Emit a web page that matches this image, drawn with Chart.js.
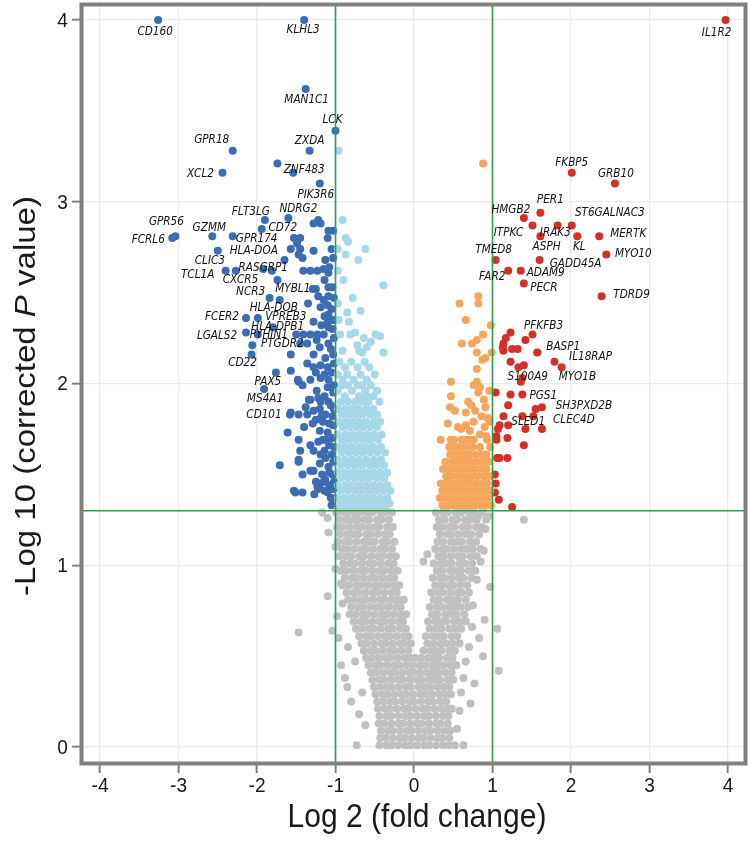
<!DOCTYPE html>
<html>
<head>
<meta charset="utf-8">
<script src="https://cdn.jsdelivr.net/npm/chart.js@4.4.1/dist/chart.umd.min.js"></script>
<style>
  html, body { margin: 0; padding: 0; background: #fff; }
  #wrap { width: 750px; height: 841px; }
</style>
</head>
<body>
<div id="wrap"><canvas id="volcano" width="750" height="841"></canvas></div>
<script>
// --- data: log2 fold change (x), -log10 corrected P (y) ---
const xTicks = [-4, -3, -2, -1, 0, 1, 2, 3, 4];
const yTicks = [0, 1, 2, 3, 4];
const foldCut = [-1, 1];
const pCut = 1.3;

// down-regulated, significant (dark blue)
const downSig = [
  [-3.26,4.00],[-1.40,4.00],[-1.38,3.62],[-1.00,3.39],[-1.33,3.28],[-2.31,3.28],[-2.44,3.16],[-1.74,3.21],[-1.54,3.16],[-1.20,3.10],
  [-1.90,2.90],[-1.60,2.91],[-1.94,2.85],[-3.04,2.81],[-3.08,2.80],[-2.57,2.81],[-2.31,2.81],[-2.50,2.73],[-2.40,2.62],[-2.27,2.62],
  [-1.92,2.63],[-1.81,2.62],[-1.74,2.57],[-1.84,2.47],[-1.71,2.46],[-1.29,2.52],[-2.14,2.36],[-1.99,2.36],[-1.80,2.31],[-2.14,2.28],
  [-1.99,2.27],[-2.06,2.21],[-2.07,2.16],[-1.76,2.06],[-1.91,1.97],[-1.58,1.83],
  [-1.28,2.88],[-1.19,2.88],[-1.22,2.90],[-1.09,2.84],[-1.10,2.80],[-1.53,2.80],[-1.45,2.80],[-1.49,2.77],[-1.57,2.74],[-1.45,2.74],
  [-1.47,2.71],[-1.28,2.73],[-1.42,2.69],[-1.13,2.68],[-1.03,2.69],[-1.65,2.68],[-1.08,2.64],[-1.41,2.62],[-1.32,2.62],[-1.23,2.62],
  [-1.15,2.63],[-1.09,2.61],[-1.25,2.52],[-1.09,2.53],[-1.04,2.53],[-1.09,2.48],[-1.22,2.48],[-1.15,2.46],[-1.35,2.44],[-1.10,2.43],
  [-1.19,2.42],[-1.05,2.41],[-1.09,2.38],[-1.28,2.34],[-1.10,2.34],[-1.09,2.31],[-1.04,2.30],[-1.41,2.27],[-1.32,2.27],[-1.23,2.27],
  [-1.15,2.27],[-1.50,2.27],[-1.45,2.22],[-1.36,2.22],[-1.09,2.22],[-1.20,2.20],[-1.57,2.16],[-1.28,2.16],[-1.03,2.16],[-1.13,2.14],
  [-1.36,2.11],[-1.28,2.09],[-1.19,2.10],[-1.10,2.09],[-1.05,2.06],[-1.57,2.07],[-1.47,2.01],[-1.32,2.02],[-1.19,2.03],[-1.09,2.02],
  [-1.42,1.99],[-1.10,1.98],[-1.24,1.96],[-1.03,1.95],[-1.32,1.91],[-1.19,1.90],[-1.09,1.90],[-1.14,1.93],[-1.06,1.88],[-1.38,1.87],
  [-1.28,1.85],[-1.20,1.86],[-1.47,1.83],[-1.36,1.83],[-1.13,1.83],[-1.04,1.82],[-1.25,1.80],[-1.16,1.79],[-1.08,1.78],[-1.40,1.76],
  [-1.61,1.73],[-1.20,1.74],[-1.10,1.73],[-1.04,1.70],[-1.47,1.69],[-1.16,1.69],[-1.32,1.66],[-1.08,1.66],[-1.28,1.63],[-1.14,1.63],
  [-1.05,1.61],[-1.47,1.58],[-1.13,1.59],[-1.71,1.55],[-1.47,1.57],[-1.09,1.54],[-1.20,1.56],[-1.42,1.50],[-1.32,1.52],[-1.04,1.50],
  [-1.28,1.52],[-1.25,1.46],[-1.15,1.46],[-1.13,1.47],[-1.19,1.45],[-1.23,1.43],[-1.22,1.42],[-1.53,1.41],[-1.51,1.40],[-1.42,1.40],
  [-1.06,1.37],[-1.04,1.37],[-1.05,1.33],[-1.08,1.44],[-1.03,1.42],[-1.48,2.02],[-1.34,1.91],[-1.57,1.84],[-1.45,1.63],[-1.30,1.52],
  [-1.02,2.25],[-1.06,2.19],[-1.02,2.11],[-1.14,2.37],[-1.03,2.35],[-1.02,1.99],[-1.12,1.69],[-1.03,1.57],[-1.17,1.50],[-1.10,1.40],
  [-1.03,2.84],[-1.05,2.74],[-1.14,2.57],[-1.02,2.47],[-1.18,2.32],[-1.24,2.24],[-1.14,2.05],[-1.25,2.06],[-1.22,1.92],[-1.02,1.86],
  [-1.18,1.82],[-1.29,1.78],[-1.03,1.77],[-1.22,1.68],[-1.02,1.65],[-1.19,1.61],[-1.08,1.51],[-1.14,1.41],[-1.27,1.39],[-1.02,1.46]
];

// down, not past fold cut (light blue): scattered top + rows [y, x...]
const downWeak = [
  [-0.96,3.28],[-0.91,2.90],[-0.87,2.80],[-0.84,2.78],[-0.62,2.74],[-0.97,2.74],[-0.87,2.71],[-0.71,2.68],[-0.97,2.62],[-0.90,2.57],
  [-0.39,2.54],[-0.78,2.47],[-0.97,2.44],[-0.85,2.39],[-0.68,2.40],[-0.83,2.34],[-0.96,2.35],[-0.94,2.27],[-0.81,2.27],[-0.75,2.28],
  [-0.64,2.25],[-0.49,2.27],[-0.43,2.26],[-0.55,2.23],[-0.72,2.21],[-0.70,2.18],[-0.91,2.18],[-0.39,2.17],[-0.66,2.17],[-0.60,2.20]
];
const downWeakRows = [
  [2.12, -0.95,-0.80,-0.63],
  [2.09, -0.88,-0.72,-0.57],
  [2.05, -0.97,-0.85,-0.68,-0.50],
  [2.02, -0.91,-0.77,-0.60],
  [1.99, -0.92,-0.84,-0.72,-0.66,-0.55],
  [1.96, -0.97,-0.79,-0.62,-0.47],
  [1.93, -0.88,-0.70,-0.60,-0.52],
  [1.90, -0.93,-0.84,-0.75,-0.66,-0.58,-0.44],
  [1.86, -0.97,-0.88,-0.79,-0.71,-0.61,-0.52],
  [1.83, -0.92,-0.83,-0.74,-0.66,-0.56,-0.47],
  [1.79, -0.96,-0.87,-0.78,-0.70,-0.61,-0.51,-0.43],
  [1.76, -0.91,-0.82,-0.73,-0.65,-0.56,-0.47],
  [1.72, -0.97,-0.87,-0.78,-0.69,-0.60,-0.51,-0.41],
  [1.69, -0.92,-0.83,-0.74,-0.65,-0.56,-0.46],
  [1.65, -0.96,-0.88,-0.79,-0.70,-0.61,-0.52,-0.42],
  [1.62, -0.92,-0.83,-0.74,-0.65,-0.56,-0.47,-0.37],
  [1.58, -0.97,-0.88,-0.79,-0.70,-0.61,-0.51,-0.42],
  [1.55, -0.93,-0.84,-0.75,-0.66,-0.56,-0.47,-0.38],
  [1.51, -0.97,-0.88,-0.79,-0.70,-0.61,-0.52,-0.43,-0.34],
  [1.48, -0.93,-0.84,-0.75,-0.66,-0.57,-0.47,-0.38],
  [1.44, -0.97,-0.88,-0.79,-0.70,-0.61,-0.52,-0.43,-0.34],
  [1.41, -0.93,-0.84,-0.75,-0.66,-0.57,-0.48,-0.39,-0.30],
  [1.37, -0.97,-0.88,-0.79,-0.70,-0.61,-0.52,-0.43,-0.34],
  [1.34, -0.93,-0.84,-0.75,-0.66,-0.57,-0.48,-0.39,-0.31],
  [1.31, -0.97,-0.88,-0.79,-0.70,-0.61,-0.52,-0.43,-0.35]
];

// up, not past fold cut (orange)
const upWeak = [
  [0.88,3.21],[0.82,2.48],[0.82,2.44],[0.58,2.44],[0.66,2.35],[0.98,2.32],[0.88,2.27],[0.80,2.24],[0.61,2.22],[0.74,2.22],
  [0.80,2.17],[0.99,2.17],[0.91,2.14],[0.87,2.13],[0.80,2.08],[0.47,2.01],[0.80,2.01],[0.84,1.98],[0.76,1.99],[0.82,1.95],
  [0.47,1.93],[0.96,1.96],[0.46,1.87],[0.52,1.85],[0.69,1.90],[0.73,1.88],[0.66,1.84],[0.78,1.85],[0.89,1.91],[0.91,1.87],
  [0.86,1.82],[0.94,1.81],[0.43,1.78],[0.56,1.76],[0.60,1.75],[0.66,1.77],[0.71,1.74],[0.76,1.79],[0.90,1.76],[0.96,1.79],
  [0.84,1.72],[0.92,1.71]
];
const upWeakRows = [
  [1.69, 0.34,0.47,0.51,0.61,0.65,0.71,0.76,0.93],
  [1.65, 0.45,0.50,0.56,0.62,0.68,0.75,0.84,0.97],
  [1.61, 0.46,0.53,0.59,0.64,0.71,0.79,0.86,0.92],
  [1.57, 0.40,0.48,0.54,0.60,0.66,0.73,0.80,0.88,0.95],
  [1.53, 0.37,0.44,0.51,0.58,0.64,0.71,0.77,0.85,0.92],
  [1.49, 0.41,0.47,0.55,0.62,0.68,0.74,0.81,0.89,0.96],
  [1.45, 0.34,0.39,0.45,0.52,0.58,0.65,0.71,0.79,0.86,0.93],
  [1.41, 0.36,0.43,0.49,0.56,0.62,0.69,0.76,0.83,0.90,0.97],
  [1.37, 0.33,0.40,0.47,0.53,0.60,0.66,0.73,0.80,0.87,0.94],
  [1.33, 0.36,0.44,0.50,0.57,0.64,0.70,0.77,0.84,0.91,0.98],
  [1.31, 0.40,0.54,0.62,0.75,0.88]
];

// up-regulated, significant (red)
const upSig = [
  [3.97,4.00],[2.01,3.16],[2.56,3.10],[1.61,2.94],[1.40,2.91],[1.51,2.87],[1.83,2.87],[2.01,2.87],[1.61,2.81],[2.08,2.81],
  [2.36,2.81],[2.45,2.71],[1.04,2.68],[1.60,2.68],[1.20,2.62],[1.36,2.62],[1.40,2.55],[2.39,2.48],
  [1.51,2.27],[1.23,2.28],[1.17,2.25],[1.42,2.24],[1.14,2.22],[1.14,2.18],[1.25,2.19],[1.32,2.19],[1.57,2.17],[1.23,2.12],
  [1.79,2.12],[1.88,2.09],[1.33,2.09],[1.40,2.10],[1.36,2.01],[1.38,2.03],[1.04,1.95],[1.23,1.94],[1.38,1.94],[1.20,1.88],
  [1.55,1.86],[1.63,1.87],[1.14,1.82],[1.38,1.82],[1.52,1.82],[1.20,1.77],[1.09,1.77],[1.07,1.75],[1.42,1.75],[1.63,1.75],
  [1.05,1.71],[1.05,1.69],[1.19,1.70],[1.40,1.66],[1.06,1.59],[1.09,1.59],[1.19,1.59],[1.03,1.50],[1.04,1.45],[1.03,1.40],
  [1.08,1.36],[1.25,1.32],[1.13,2.20]
];

// not significant (grey): outliers + rows [y, x...]
const notSig = [
  [-1.47,0.63],[-1.10,0.83],[-1.04,0.64],[-1.09,1.18],[-1.10,1.26],[-1.17,1.29],[-1.00,0.98],[-0.98,0.72],[-0.96,0.60],[-0.93,0.45],
  [-0.88,0.38],[-0.85,0.33],[-0.80,0.25],[-0.73,0.01],[-0.70,0.18],[-0.62,0.12],[0.97,0.88],[1.06,0.65],[1.08,0.42],[0.91,1.20],
  [0.95,1.27],[0.82,1.27],[1.40,1.25],[0.85,1.02],[0.80,0.92],[0.75,0.78],[0.70,0.55],[0.66,0.47],[0.63,0.38],[0.60,0.30],
  [0.63,0.01],[0.55,0.10],[0.58,0.20],[-1.00,1.10],[0.90,0.70],[0.83,0.60],[0.12,1.02],[0.17,1.06],[0.88,0.50],[0.72,0.24],
  [-0.93,0.90],[-0.91,0.79],[-0.84,0.55],[-0.75,0.47],[-0.66,0.30],[0.79,1.13],[0.89,1.08],[0.74,0.66],[0.77,0.35],[0.52,0.45]
];
const notSigRows = [
  [1.29, -0.99,-0.90,-0.84,-0.75,-0.69,-0.60,-0.53,-0.43,-0.37,-0.28, 0.28,0.37,0.43,0.53,0.60,0.70,0.77,0.87],
  [1.25, -0.95,-0.86,-0.79,-0.72,-0.63,-0.57,-0.47,-0.41,-0.32, 0.32,0.39,0.49,0.55,0.65,0.72,0.80,0.92],
  [1.21, -0.98,-0.91,-0.82,-0.73,-0.67,-0.58,-0.50,-0.44,-0.34,-0.27, 0.29,0.36,0.45,0.52,0.62,0.69,0.79,0.86],
  [1.17, -0.94,-0.85,-0.78,-0.71,-0.61,-0.55,-0.46,-0.37,-0.31, 0.33,0.42,0.48,0.57,0.66,0.73,0.83],
  [1.13, -0.97,-0.88,-0.82,-0.73,-0.64,-0.57,-0.50,-0.40,-0.34,-0.25, 0.30,0.37,0.47,0.54,0.61,0.71,0.79],
  [1.09, -0.92,-0.85,-0.76,-0.67,-0.61,-0.52,-0.43,-0.37,-0.28, 0.27,0.36,0.42,0.51,0.60,0.67,0.75,0.85],
  [1.05, -0.95,-0.87,-0.80,-0.70,-0.64,-0.55,-0.46,-0.40,-0.31,-0.23, 0.31,0.38,0.47,0.56,0.62,0.72,0.80],
  [1.01, -0.90,-0.81,-0.75,-0.66,-0.57,-0.51,-0.42,-0.33,-0.26, 0.25,0.34,0.41,0.48,0.58,0.65,0.74],
  [0.97, -0.93,-0.86,-0.77,-0.68,-0.62,-0.53,-0.44,-0.38,-0.29,-0.21, 0.29,0.36,0.46,0.53,0.60,0.70,0.78],
  [0.93, -0.88,-0.79,-0.73,-0.64,-0.55,-0.49,-0.40,-0.31,-0.25, 0.24,0.33,0.39,0.48,0.57,0.63,0.73],
  [0.89, -0.91,-0.83,-0.74,-0.68,-0.59,-0.50,-0.44,-0.35,-0.26,-0.19, 0.27,0.35,0.44,0.50,0.59,0.68],
  [0.85, -0.86,-0.77,-0.71,-0.62,-0.53,-0.47,-0.38,-0.29,-0.22, 0.22,0.31,0.37,0.46,0.55,0.61,0.70],
  [0.81, -0.84,-0.76,-0.67,-0.61,-0.52,-0.43,-0.37,-0.28,-0.20,-0.13, 0.25,0.32,0.42,0.49,0.56,0.66],
  [0.77, -0.80,-0.71,-0.65,-0.56,-0.47,-0.41,-0.32,-0.23,-0.17, 0.20,0.29,0.36,0.45,0.52,0.60,0.69],
  [0.73, -0.82,-0.74,-0.65,-0.59,-0.50,-0.41,-0.35,-0.26,-0.17,-0.10, 0.23,0.30,0.40,0.47,0.54,0.64],
  [0.69, -0.77,-0.68,-0.62,-0.53,-0.44,-0.38,-0.29,-0.20,-0.14, 0.18,0.27,0.34,0.41,0.51,0.58,0.66],
  [0.65, -0.74,-0.66,-0.57,-0.51,-0.42,-0.33,-0.27,-0.18,-0.10, 0.20,0.28,0.35,0.45,0.52,0.60],
  [0.61, -0.70,-0.61,-0.55,-0.46,-0.37,-0.31,-0.22,-0.13,-0.07, 0.15,0.24,0.31,0.38,0.48,0.55],
  [0.57, -0.67,-0.60,-0.51,-0.42,-0.36,-0.27,-0.18,-0.12,-0.04, 0.17,0.25,0.34,0.41,0.49,0.58],
  [0.53, -0.64,-0.55,-0.49,-0.40,-0.31,-0.25,-0.16,-0.07, 0.12,0.21,0.28,0.35,0.45,0.52],
  [0.49, -0.61,-0.54,-0.45,-0.36,-0.30,-0.21,-0.12,-0.06,0.01, 0.09,0.18,0.25,0.32,0.42,0.49],
  [0.45, -0.58,-0.49,-0.43,-0.34,-0.25,-0.19,-0.10,-0.02, 0.07,0.14,0.23,0.30,0.37,0.46,0.54],
  [0.41, -0.55,-0.48,-0.39,-0.30,-0.24,-0.15,-0.06,0.00, 0.08,0.17,0.24,0.31,0.40,0.48],
  [0.37, -0.53,-0.44,-0.38,-0.29,-0.20,-0.14,-0.05,0.04,0.10,0.19,0.26,0.33,0.43,0.50],
  [0.33, -0.51,-0.43,-0.34,-0.28,-0.19,-0.10,-0.04,0.06,0.14,0.21,0.30,0.38,0.45],
  [0.29, -0.49,-0.40,-0.34,-0.25,-0.16,-0.10,-0.01,0.08,0.15,0.23,0.32,0.39,0.47],
  [0.25, -0.47,-0.39,-0.30,-0.24,-0.15,-0.06,0.00,0.09,0.18,0.24,0.33,0.41],
  [0.21, -0.46,-0.37,-0.31,-0.22,-0.13,-0.07,0.02,0.11,0.17,0.26,0.35,0.42,0.48],
  [0.17, -0.44,-0.35,-0.29,-0.20,-0.11,-0.05,0.04,0.13,0.19,0.28,0.37,0.44],
  [0.13, -0.45,-0.38,-0.29,-0.20,-0.14,-0.05,0.04,0.10,0.19,0.28,0.34,0.43],
  [0.09, -0.42,-0.33,-0.27,-0.18,-0.09,-0.03,0.06,0.15,0.21,0.30,0.39,0.46],
  [0.05, -0.43,-0.36,-0.27,-0.18,-0.12,-0.03,0.06,0.12,0.21,0.30,0.36,0.45],
  [0.01, -0.44,-0.35,-0.29,-0.20,-0.11,-0.05,0.04,0.13,0.19,0.28,0.37,0.44,0.52]
];

// labelled genes
const geneNames = ['CD160','KLHL3','MAN1C1','LCK','ZXDA','GPR18','XCL2','ZNF483','PIK3R6','FLT3LG',
  'NDRG2','CD72','GPR56','FCRL6','GZMM','GPR174','HLA-DOA','CLIC3','TCL1A','RASGRP1',
  'CXCR5','NCR3','MYBL1','HLA-DOB','FCER2','VPREB3','HLA-DPB1','LGALS2','PYHIN1','PTGDR2',
  'CD22','PAX5','MS4A1','CD101',
  'IL1R2','FKBP5','GRB10','PER1','HMGB2','ST6GALNAC3','ITPKC','IRAK3','MERTK','KL',
  'ASPH','MYO10','TMED8','GADD45A','FAR2','ADAM9','PECR','TDRD9','PFKFB3','BASP1',
  'IL18RAP','S100A9','MYO1B','PGS1','SH3PXD2B','SLED1','CLEC4D'];
const geneX = [-3.26,-1.40,-1.38,-1.00,-1.33,-2.31,-2.44,-1.54,-1.20,-1.90,
  -1.60,-1.94,-3.04,-3.08,-2.57,-2.31,-2.50,-2.27,-2.40,-1.92,
  -1.74,-1.84,-1.29,-1.71,-2.14,-1.99,-1.80,-2.14,-1.99,-2.06,
  -2.07,-1.76,-1.91,-1.58,
  3.97,2.01,2.56,1.61,1.40,2.01,1.51,1.61,2.36,2.08,
  1.60,2.45,1.04,1.60,1.20,1.36,1.40,2.39,1.51,1.57,
  1.88,1.36,1.79,1.38,1.63,1.20,1.63];
const geneY = [4.00,4.00,3.62,3.39,3.28,3.28,3.16,3.16,3.10,2.90,
  2.91,2.85,2.81,2.80,2.81,2.81,2.73,2.62,2.62,2.63,
  2.57,2.47,2.52,2.46,2.36,2.36,2.31,2.28,2.27,2.21,
  2.16,2.06,1.97,1.83,
  4.00,3.16,3.10,2.94,2.91,2.87,2.87,2.81,2.81,2.81,
  2.68,2.71,2.68,2.68,2.62,2.62,2.55,2.48,2.27,2.17,
  2.09,2.01,2.12,1.94,1.87,1.77,1.75];
// label placement relative to its point, in px
const labelDx = [-3,-1,1,-3,0,-21,-22,11,-4,-14,
  10,21,-9,-24,-3,24,36,-26,-28,0,
  -37,-19,-20,-6,-24,28,5,-29,11,30,
  -9,-8,1,-26,
  -9,0,1,10,-13,38,-24,15,29,2,
  7,27,-2,36,-16,25,20,30,11,26,
  29,7,23,21,42,20,32];
const labelDy = [12,10,11,-11,-10,-11,1,-3,11,-8,
  -9,-1,-14,2,-8,3,0,-10,4,-1,
  0,-6,0,8,-1,-1,0,3,1,-1,
  9,9,10,1,
  13,-10,-10,-13,-8,-12,8,-3,-2,11,
  -13,0,-10,4,6,2,4,-1,-8,-6,
  -10,-5,15,2,-1,-3,-9];

const colors = { downSig: '#3c6db3', downWeak: '#a8d7e8', upWeak: '#f6a65c', upSig: '#d4302a', notSig: '#c0c0c0' };
const SQUEEZE = 0.91;   // the figure's text is narrower than it is tall
const SANS = '"Liberation Sans", Arial, sans-serif';

function toPoints(pairs, rows) {
  const pts = pairs.map(p => ({ x: p[0], y: p[1] }));
  (rows || []).forEach(r => { for (let i = 1; i < r.length; i++) pts.push({ x: r[i], y: r[0] }); });
  return pts;
}

function dataset(pts, color) {
  return { data: pts, backgroundColor: color, borderWidth: 0, pointRadius: 4, pointHoverRadius: 4 };
}

// draws text narrowed horizontally around (x, y)
function squeezedText(ctx, text, x, y, align) {
  ctx.save();
  ctx.translate(x, y);
  ctx.scale(SQUEEZE, 1);
  ctx.textAlign = align;
  ctx.fillText(text, 0, 0);
  ctx.restore();
}

const overlay = {
  id: 'overlay',
  beforeDraw(chart) {
    const ctx = chart.ctx;
    ctx.save();
    ctx.fillStyle = '#fff';
    ctx.fillRect(0, 0, chart.width, chart.height);
    ctx.restore();
  },
  afterDatasetsDraw(chart) {
    const { ctx, chartArea: a, scales: { x, y } } = chart;
    ctx.save();
    // cut-off lines
    ctx.strokeStyle = '#2f9e4f';
    ctx.lineWidth = 1.6;
    ctx.beginPath();
    foldCut.forEach(v => { const px = x.getPixelForValue(v); ctx.moveTo(px, a.top); ctx.lineTo(px, a.bottom); });
    const py = y.getPixelForValue(pCut);
    ctx.moveTo(a.left, py); ctx.lineTo(a.right, py);
    ctx.stroke();

    // gene labels
    ctx.font = 'italic 11.5px "DejaVu Sans"';
    ctx.fillStyle = '#111';
    ctx.textBaseline = 'middle';
    geneNames.forEach((n, i) => {
      squeezedText(ctx, n, x.getPixelForValue(geneX[i]) + labelDx[i], y.getPixelForValue(geneY[i]) + labelDy[i], 'center');
    });

    // panel frame
    ctx.strokeStyle = '#808080';
    ctx.lineWidth = 4;
    ctx.strokeRect(a.left - 0.5, a.top + 0.5, a.width, a.height);

    // tick labels, taken from the axes' own ticks
    ctx.fillStyle = '#1a1a1a';
    ctx.font = '21px ' + SANS;
    x.ticks.forEach(t => squeezedText(ctx, String(t.value), x.getPixelForValue(t.value), 786, 'center'));
    y.ticks.forEach(t => squeezedText(ctx, String(t.value), 68, y.getPixelForValue(t.value) + 1, 'right'));

    // axis titles
    ctx.font = '33px ' + SANS;
    squeezedText(ctx, 'Log 2 (fold change)', 417, 818, 'center');

    const parts = [['-Log 10 (corrected ', ''], ['P', 'italic '], [' value)', '']];
    ctx.translate(27, 396);
    ctx.rotate(-Math.PI / 2);
    ctx.scale(1, SQUEEZE);
    let total = 0;
    parts.forEach(p => { ctx.font = p[1] + '33px ' + SANS; total += ctx.measureText(p[0]).width; });
    let cx = -total / 2;
    ctx.textAlign = 'left';
    parts.forEach(p => {
      ctx.font = p[1] + '33px ' + SANS;
      ctx.fillText(p[0], cx, 0);
      cx += ctx.measureText(p[0]).width;
    });
    ctx.restore();
  }
};

new Chart(document.getElementById('volcano'), {
  type: 'scatter',
  data: {
    datasets: [
      dataset(toPoints(notSig, notSigRows), colors.notSig),
      dataset(toPoints(downWeak, downWeakRows), colors.downWeak),
      dataset(toPoints(upWeak, upWeakRows), colors.upWeak),
      dataset(toPoints(downSig), colors.downSig),
      dataset(toPoints(upSig), colors.upSig)
    ]
  },
  options: {
    responsive: false,
    animation: false,
    events: [],
    devicePixelRatio: 1,
    layout: { padding: { top: 3, right: 4, left: 0, bottom: 0 } },
    plugins: { legend: { display: false }, tooltip: { enabled: false } },
    scales: {
      x: {
        type: 'linear', min: -4.23, max: 4.23,
        afterFit(s) { s.height = 78; },
        afterBuildTicks(s) { s.ticks = xTicks.map(v => ({ value: v })); },
        ticks: { display: false },
        grid: { color: '#ebebeb', lineWidth: 1.3, tickLength: 10, tickColor: '#808080', tickWidth: 2 },
        border: { display: false }
      },
      y: {
        type: 'linear', min: -0.088, max: 4.088,
        afterFit(s) { s.width = 82; },
        afterBuildTicks(s) { s.ticks = yTicks.map(v => ({ value: v })); },
        ticks: { display: false },
        grid: { color: '#ebebeb', lineWidth: 1.3, tickLength: 10, tickColor: '#808080', tickWidth: 2 },
        border: { display: false }
      }
    }
  },
  plugins: [overlay]
});
</script>
</body>
</html>
